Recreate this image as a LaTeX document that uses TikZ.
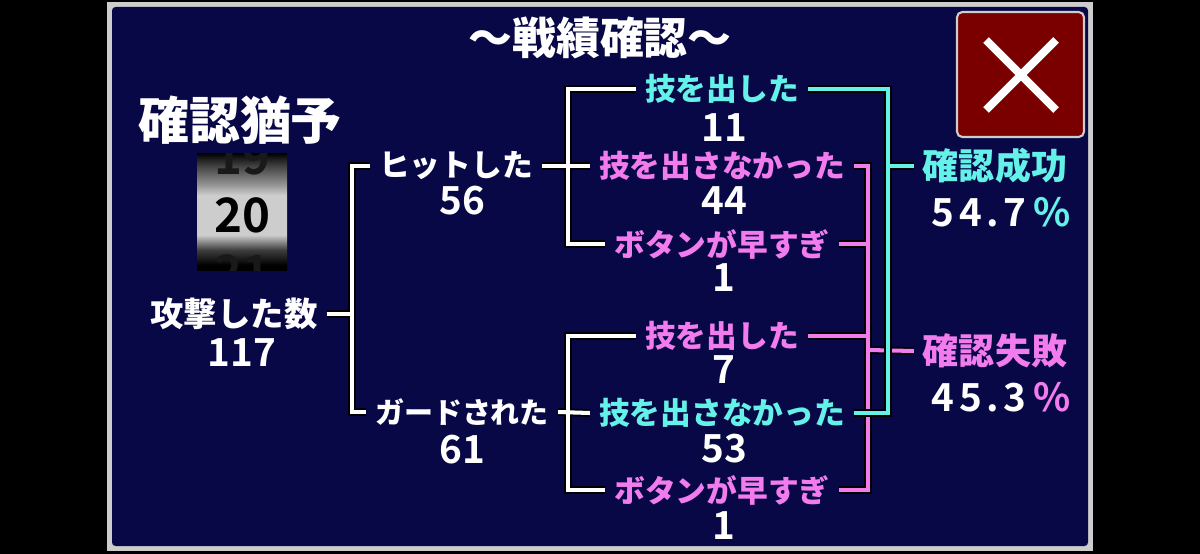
\documentclass[tikz,border=0pt]{standalone}
\usepackage{fontspec}
\setmainfont{Noto Sans CJK JP Black}
\newfontfamily\numfont{Noto Sans CJK JP Bold}
\newfontfamily\pctfont{Noto Sans CJK JP Bold}[LetterSpace=12]
\usetikzlibrary{positioning}

\definecolor{navy}{RGB}{8,8,70}
\definecolor{framegray}{RGB}{205,205,205}
\definecolor{cyanish}{RGB}{100,242,232}
\definecolor{pinkish}{RGB}{242,124,238}
\definecolor{btnred}{RGB}{122,0,0}
\definecolor{drumlight}{RGB}{205,205,205}
\definecolor{drummid}{RGB}{150,150,150}
\definecolor{drumdark}{RGB}{60,60,60}

\pgfdeclareverticalshading{drum}{100bp}{color(0bp)=(black); color(27bp)=(black);
  color(33.5bp)=(drumdark); color(40bp)=(drumlight); color(57bp)=(drumlight);
  color(61.3bp)=(drummid); color(70bp)=(drumdark); color(75bp)=(black); color(100bp)=(black)}

\newcommand\fs[1]{\fontsize{#1}{#1}\selectfont}

\tikzset{
  lbl/.style={inner xsep=5pt, inner ysep=0pt, text=white, font=\fs{17.5}},
  num/.style={inner sep=0pt, text=white, font=\numfont\fs{22}},
  pct/.style={inner sep=0pt, text=white, font=\pctfont\fs{22}},
  wireout/.style={black, line width=4.4pt},
  wirewhite/.style={white, line width=2.3pt},
  wirepink/.style={pinkish, line width=2.3pt},
  wirecyan/.style={cyanish, line width=2.3pt}
}

% connectors, drawn once as outline and once in colour
\newcommand\whitewires[1]{%
  \draw[#1] (root.east) -- (j0);
  \draw[#1] (hit.west) -| (j0) |- (guard.west);
  \draw[#1] (hitA.west) -| (j1) |- (hitC.west);
  \draw[#1] (hit.east) -- (hitB.west);
  \draw[#1] (guardA.west) -| (j2) |- (guardC.west);
  \draw[#1] (guard.east) -- (guardB.west);}
\newcommand\pinkwires[1]{%
  \draw[#1] (hitB.east) -| (pk) |- (guardC.east);
  \draw[#1] (hitC.east) -- (hitC.east -| pk);
  \draw[#1] (guardA.east) -- (guardA.east -| pk);
  \draw[#1] (pk) -- (fail.west);}
\newcommand\cyanwires[1]{%
  \draw[#1] (hitA.east) -| (cy) |- (guardB.east);
  \draw[#1] (cy) -- (succ.west);}

\begin{document}
\begin{tikzpicture}[x=0.02cm,y=-0.02cm]
  \useasboundingbox (0,0) rectangle (1200,554);
  \fill[black] (0,0) rectangle (1200,554);
  \fill[framegray] (107,2) rectangle (1093,551);
  \fill[navy, rounded corners=2pt] (112,7) rectangle (1088,546);

  % title and close button
  \node[text=white, font=\fs{25}] (title) at (600,38) {～戦績確認～};
  \draw[fill=btnred, draw=framegray, line width=1.2pt, rounded corners=3pt] (957,12) rectangle (1084,137);
  \draw[white, line width=4.5pt] (986,40) -- (1056,110) (1056,40) -- (986,110);

  % drum
  \node[inner sep=0pt, text=white, font=\fs{29}] (delay) at (240,120) {確認猶予};
  \shade[shading=drum] (197,153) rectangle (287,270);
  \begin{scope}
    \clip (197,153) rectangle (287,270);
    \node[inner sep=0pt, text=black!90, font=\numfont\fs{27}] (prev) at (242,157) {19};
    \node[inner sep=0pt, text=black!90, font=\numfont\fs{27}] (next) at (242,272) {21};
  \end{scope}
  \node[inner sep=0pt, text=black, font=\numfont\fs{27}] (cur) at (242,215) {20};

  % tree
  \node[lbl, font=\fs{19}] (root) at (234,314) {攻撃した数};
  \node[num] (rootn) at (242,353) {117};
  \node[lbl] (hit) at (456,166) {ヒットした};
  \node[num] (hitn) at (462,201) {56};
  \node[lbl, font=\fs{16.5}] (guard) at (462,412) {ガードされた};
  \node[num] (guardn) at (462,450) {61};

  \node[lbl, text=cyanish] (hitA) at (722,89) {技を出した};
  \node[num] (hitAn) at (724,128) {11};
  \node[lbl, text=pinkish] (hitB) at (722,166) {技を出さなかった};
  \node[num] (hitBn) at (724,201) {44};
  \node[lbl, text=pinkish] (hitC) at (722,244) {ボタンが早すぎ};
  \node[num] (hitCn) at (724,278) {1};

  \node[lbl, text=pinkish] (guardA) at (722,336) {技を出した};
  \node[num] (guardAn) at (724,370) {7};
  \node[lbl, text=cyanish] (guardB) at (722,413) {技を出さなかった};
  \node[num] (guardBn) at (724,449) {53};
  \node[lbl, text=pinkish] (guardC) at (722,490) {ボタンが早すぎ};
  \node[num] (guardCn) at (724,526) {1};

  \node[lbl, text=cyanish, font=\fs{20.5}] (succ) at (995,166) {確認成功};
  \node[pct] (succp) at (1001,212) {54.7\,\textcolor{cyanish}{\%}};
  \node[lbl, text=pinkish, font=\fs{20.5}] (fail) at (995,351) {確認失敗};
  \node[pct] (failp) at (1001,397) {45.3\,\textcolor{pinkish}{\%}};

  \coordinate (j0) at (352,314);
  \coordinate (j1) at (568,166);
  \coordinate (j2) at (568,412);
  \coordinate (pk) at (868,350);
  \coordinate (cy) at (888,166);

  \whitewires{wireout} \whitewires{wirewhite}
  \pinkwires{wireout} \pinkwires{wirepink}
  \cyanwires{wireout} \cyanwires{wirecyan}
\end{tikzpicture}
\end{document}
